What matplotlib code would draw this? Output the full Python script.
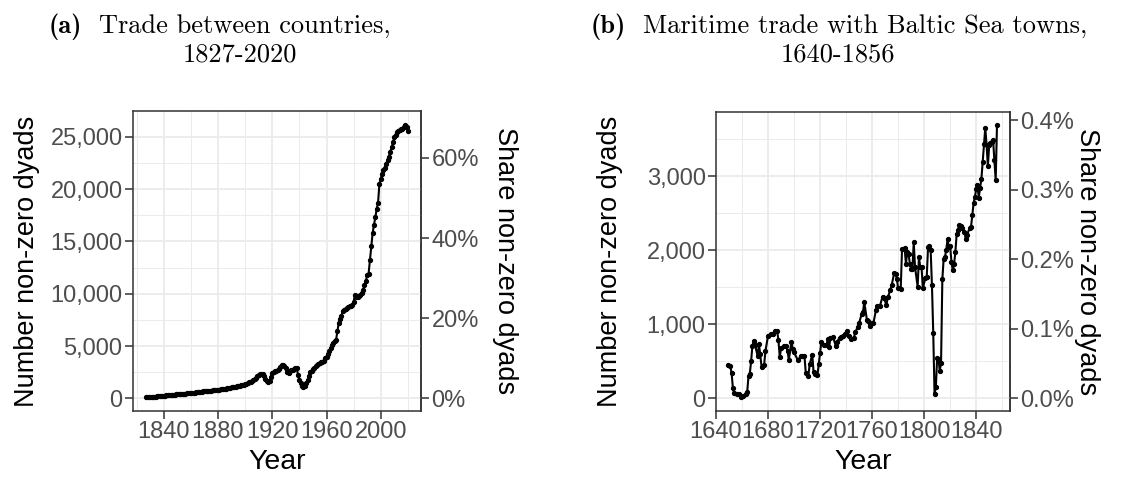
import numpy as np
import matplotlib.pyplot as plt
from matplotlib.ticker import FuncFormatter, MultipleLocator

# (a) trade between countries, one value per year 1827-2020
years_a = np.arange(1827, 2021)
dyads_a = [
    100, 110, 120, 140, 150, 160, 170, 180, 190, 205,
    215, 225, 240, 250, 265, 280, 290, 300, 320, 330,
    350, 360, 380, 390, 400, 410, 420, 440, 450, 465,
    480, 490, 500, 520, 525, 540, 555, 570, 590, 610,
    630, 650, 665, 680, 695, 710, 725, 740, 750, 760,
    775, 790, 805, 820, 840, 860, 880, 900, 920, 940,
    960, 990, 1020, 1050, 1080, 1100, 1130, 1160, 1180, 1200,
    1240, 1280, 1320, 1360, 1400, 1460, 1520, 1600, 1680, 1760,
    1860, 1990, 2150, 2280, 2320, 2360, 2350, 2100, 1830, 1650,
    1610, 1700, 2050, 2400, 2500, 2590, 2650, 2700, 2850, 3000,
    3150, 3190, 3100, 2950, 2500, 2400, 2600, 2680, 2750, 2850,
    2950, 2900, 2250, 1800, 1450, 1200, 1100, 1180, 1450, 1750,
    2150, 2500, 2600, 2800, 2950, 3050, 3200, 3300, 3400, 3450,
    3480, 3600, 3900, 4000, 4200, 4500, 4800, 5100, 5300, 5450,
    5570, 6400, 7200, 7600, 7900, 8350, 8450, 8500, 8620, 8750,
    8800, 8850, 8950, 9250, 9900, 9700, 9650, 9750, 9900, 10100,
    10400, 10800, 11200, 11800, 11900, 13200, 14600, 15800, 16600, 17300,
    18100, 18700, 20500, 21000, 21450, 21800, 22050, 22400, 22800, 23100,
    23550, 24000, 24450, 24950, 25150, 25400, 25500, 25600, 25700, 25750,
    25950, 26150, 25950, 25500,
]

# (b) maritime trade with Baltic Sea towns
years_b = [
    1649, 1651, 1652, 1653, 1654, 1656, 1658, 1659, 1661, 1663,
    1664, 1665, 1666, 1667, 1668, 1669, 1670, 1672, 1673, 1674,
    1675, 1677, 1678, 1680, 1682, 1684, 1685, 1687, 1688, 1689,
    1690, 1692, 1694, 1695, 1696, 1698, 1699, 1700, 1703, 1705,
    1706, 1708, 1709, 1711, 1712, 1714, 1715, 1716, 1718, 1719,
    1720, 1721, 1723, 1725, 1726, 1727, 1728, 1730, 1732, 1733,
    1735, 1736, 1738, 1739, 1741, 1742, 1744, 1746, 1747, 1749,
    1750, 1752, 1753, 1754, 1756, 1757, 1758, 1760, 1761, 1763,
    1764, 1766, 1768, 1769, 1771, 1772, 1774, 1775, 1777, 1778,
    1779, 1780, 1782, 1783, 1785, 1786, 1787, 1788, 1789, 1790,
    1791, 1792, 1793, 1795, 1796, 1797, 1798, 1799, 1801, 1802,
    1803, 1804, 1805, 1806, 1807, 1808, 1809, 1810, 1811, 1812,
    1813, 1814, 1815, 1816, 1817, 1818, 1819, 1820, 1821, 1822,
    1823, 1824, 1825, 1826, 1827, 1828, 1829, 1831, 1832, 1833,
    1835, 1836, 1837, 1838, 1839, 1840, 1841, 1842, 1843, 1844,
    1845, 1846, 1847, 1848, 1849, 1850, 1851, 1852, 1853, 1854,
    1855, 1856,
]
dyads_b = [
    455, 437, 339, 138, 67, 58, 58, 13, 31, 58,
    89, 303, 335, 504, 714, 772, 723, 571, 736, 593,
    428, 455, 638, 848, 875, 875, 910, 910, 785, 558,
    674, 714, 705, 638, 518, 767, 669, 620, 513, 571,
    571, 571, 348, 303, 460, 589, 357, 326, 312, 468,
    616, 767, 727, 727, 803, 700, 817, 825, 714, 767,
    817, 834, 839, 870, 910, 839, 803, 817, 892, 968,
    1017, 1142, 1174, 1298, 1062, 1040, 973, 1017, 1017, 1196,
    1249, 1249, 1374, 1361, 1263, 1365, 1463, 1526, 1696, 1687,
    1620, 1486, 1477, 2021, 2026, 1821, 1972, 1954, 1821, 1754,
    1754, 2110, 1776, 1508, 1910, 1776, 1776, 1486, 1633, 1642,
    2044, 2053, 2008, 1530, 883, 58, 147, 549, 535, 370,
    482, 1611, 1887, 1910, 2008, 2151, 2044, 2053, 1843, 1731,
    1812, 1977, 2222, 2276, 2343, 2334, 2302, 2244, 2155, 2213,
    2302, 2311, 2481, 2637, 2722, 2824, 2882, 2713, 2847, 2963,
    3195, 3436, 3659, 3427, 3137, 3427, 3449, 3471, 3489, 3226,
    2949, 3694,
]

# number of dyads that corresponds to 100 % on the right axis
full_a = 38300
full_b = 940500

sans = 'Liberation Sans'
tick_col = '#4D4D4D'
dark = '#333333'
grid_col = '#EBEBEB'

fig = plt.figure(figsize=(11.32, 4.78), dpi=100)
ax_a = fig.add_axes([133 / 1132, 67 / 478, 288 / 1132, 300 / 478])
ax_b = fig.add_axes([716 / 1132, 67 / 478, 294 / 1132, 299.5 / 478])


def style(ax, xmaj, ymaj, full, pct_step, pct_fmt, lx, rx):
    ax.set_axisbelow(True)
    ax.xaxis.set_major_locator(MultipleLocator(xmaj))
    ax.xaxis.set_minor_locator(MultipleLocator(xmaj / 2))
    ax.yaxis.set_major_locator(MultipleLocator(ymaj))
    ax.yaxis.set_minor_locator(MultipleLocator(ymaj / 2))
    ax.grid(which='major', color=grid_col, lw=1.3)
    ax.grid(which='minor', color=grid_col, lw=0.7)
    ax.yaxis.set_major_formatter(FuncFormatter(lambda v, p: f'{v:,.0f}'))
    ax.tick_params(which='major', length=5.5, width=1.1, color=dark,
                   labelsize=17, labelcolor=tick_col, pad=2)
    ax.tick_params(which='minor', length=0)
    for s in ax.spines.values():
        s.set_color(dark)
        s.set_linewidth(1.1)
    for lab in ax.get_xticklabels() + ax.get_yticklabels():
        lab.set_fontfamily(sans)
    ax.set_xlabel('Year', fontsize=20.5, fontfamily=sans)
    ax.xaxis.set_label_coords(0.5, -0.128)
    ax.set_ylabel('Number non-zero dyads', fontsize=19.5, fontfamily=sans)
    ax.yaxis.set_label_coords(lx, 0.5)

    sec = ax.secondary_yaxis('right', functions=(lambda v: v / full * 100,
                                                 lambda p: p * full / 100))
    sec.yaxis.set_major_locator(MultipleLocator(pct_step))
    sec.yaxis.set_major_formatter(FuncFormatter(pct_fmt))
    sec.tick_params(length=5.5, width=1.1, color=dark, labelsize=17,
                    labelcolor=tick_col, pad=2)
    sec.spines['right'].set_color(dark)
    sec.spines['right'].set_linewidth(1.1)
    for lab in sec.get_yticklabels():
        lab.set_fontfamily(sans)
    sec.set_ylabel('Share non-zero dyads', fontsize=19.5, fontfamily=sans,
                   rotation=-90, va='center')
    sec.yaxis.set_label_coords(rx, 0.5, transform=ax.transAxes)


ax_a.plot(years_a, dyads_a, color='black', lw=1.5, marker='o', ms=2.8)
pad_x = 0.05 * (years_a[-1] - years_a[0])
pad_y = 0.05 * (max(dyads_a) - min(dyads_a))
ax_a.set_xlim(years_a[0] - pad_x, years_a[-1] + pad_x)
ax_a.set_ylim(min(dyads_a) - pad_y, max(dyads_a) + pad_y)
style(ax_a, 40, 5000, full_a, 20, lambda v, p: f'{v:.0f}%', -0.323, 1.29)

ax_b.plot(years_b, dyads_b, color='black', lw=1.5, marker='o', ms=2.8)
ax_b.set_xlim(1640, 1866)
pad_y = 0.05 * (max(dyads_b) - min(dyads_b))
ax_b.set_ylim(min(dyads_b) - pad_y, max(dyads_b) + pad_y)
style(ax_b, 40, 1000, full_b, 0.1, lambda v, p: f'{v:.1f}%', -0.316, 1.262)

# panel captions in a LaTeX-like serif
tsize = 19
fig.text(49 / 1132, 1 - 33 / 478, '(a)', fontfamily='cmb10', fontsize=tsize)
fig.text(99 / 1132, 1 - 33 / 478, 'Trade between countries,', fontfamily='cmr10', fontsize=tsize)
fig.text(239.5 / 1132, 1 - 62 / 478, '1827-2020', fontfamily='cmr10', fontsize=tsize, ha='center')
fig.text(591 / 1132, 1 - 33 / 478, '(b)', fontfamily='cmb10', fontsize=tsize)
fig.text(643 / 1132, 1 - 33 / 478, 'Maritime trade with Baltic Sea towns,', fontfamily='cmr10', fontsize=tsize)
fig.text(837.5 / 1132, 1 - 62 / 478, '1640-1856', fontfamily='cmr10', fontsize=tsize, ha='center')

fig.savefig('out.png', dpi=100)
